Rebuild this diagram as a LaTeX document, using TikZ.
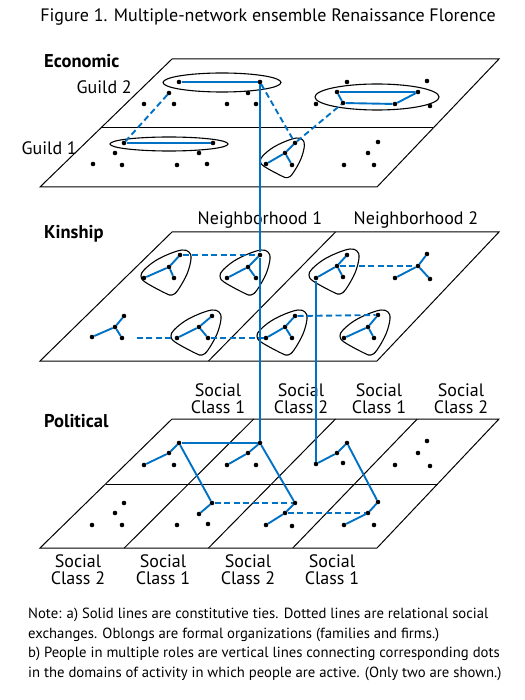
\documentclass[tikz,border=0pt]{standalone}
\usepackage{fontspec}
\setmainfont{PT Sans}
\definecolor{netblue}{RGB}{0,114,198}
\newcommand\orgblob[3]{%
  \begin{scope}[shift={(#1,#2)},scale=#3]
    \draw[org] plot[smooth cycle,tension=0.6] coordinates {(13,-17) (20,-15) (22,-8) (18,7) (9,23) (3,28) (-4,26) (-24,15) (-28,9) (-25,3) (-14,-6) (0,-13)};
  \end{scope}}
\begin{document}
\begin{tikzpicture}[x=1pt,y=-1pt,
  dot/.style={circle,fill=black,inner sep=0pt,minimum size=4.6pt},
  tie/.style={draw=netblue,line width=1.9pt},
  exch/.style={draw=netblue,line width=1.9pt,dash pattern=on 6pt off 3.5pt},
  plane/.style={draw=black,line width=1pt,line join=miter},
  org/.style={draw=black,line width=1.1pt},
  lbl/.style={font=\fontsize{18}{17}\selectfont,inner sep=0pt},
  layer/.style={font=\fontsize{18.5}{18}\selectfont\bfseries,inner sep=0pt,anchor=west},
  cls/.style={font=\fontsize{18}{17.3}\selectfont,inner sep=0pt,align=center},
  notetext/.style={font=\fontsize{14.7}{18}\selectfont,inner sep=0pt,anchor=base west}]
\fill[white] (0,0) rectangle (524,700);
\useasboundingbox (0,0) rectangle (524,700);

% title
\node[font=\fontsize{18}{20}\selectfont,inner sep=0pt,anchor=base] (title) at (268,22) {Figure 1. Multiple-network ensemble Renaissance Florence};

% ---------------- Economic layer ----------------
\draw[plane] (172,59) -- (499,59) -- (377,187) -- (40,187) -- cycle;
\draw[plane] (100.8,128) -- (433.2,128);
\node[layer] (econ) at (44,61) {Economic};
\node[lbl,anchor=east] (guild2) at (132,87) {Guild 2};
\node[lbl,anchor=east] (guild1) at (77,148) {Guild 1};

\draw[org] (222,82.5) ellipse [x radius=59,y radius=9.5];
\draw[org] (377,97) ellipse [x radius=62,y radius=13];
\draw[org] (169,144) ellipse [x radius=59,y radius=7];
\orgblob{285}{153}{0.88}

\node[dot] (e1) at (179,82) {};
\node[dot] (e2) at (260,82) {};
\node[dot] (e3) at (169,93) {};
\node[dot] (e4) at (248,93) {};
\node[dot] (e5) at (144,104) {};
\node[dot] (e6) at (174,104) {};
\node[dot] (e7) at (227,104) {};
\node[dot] (e8) at (256,104) {};
\node[dot] (e9) at (316,104) {};
\node[dot] (e10) at (347,82) {};
\node[dot] (e11) at (427,81) {};
\node[dot] (e12) at (430,106) {};
\node[dot] (r1) at (337,92) {};
\node[dot] (r2) at (418,92) {};
\node[dot] (r3) at (395,104) {};
\node[dot] (r4) at (343,103) {};
\node[dot] (g1) at (124,143) {};
\node[dot] (g2) at (213,143) {};
\node[dot] (f1) at (115,153) {};
\node[dot] (f2) at (199,153) {};
\node[dot] (f3) at (93,164) {};
\node[dot] (f4) at (122,165) {};
\node[dot] (f5) at (177,165) {};
\node[dot] (f6) at (207,164) {};
\node[dot] (f7) at (378,142) {};
\node[dot] (f8) at (368,153) {};
\node[dot] (f9) at (344,165) {};
\node[dot] (f10) at (374,165) {};
\node[dot] (t1) at (295,143) {};
\node[dot] (t0) at (285,153) {};
\node[dot] (t2) at (266,164) {};
\node[dot] (t3) at (292,165) {};

\draw[tie] (e1) -- (e2);
\draw[tie] (g1) -- (g2);
\draw[tie] (r1) -- (r2) -- (r3) -- (r4) -- (r1);
\draw[tie] (t0) -- (t1);
\draw[tie] (t0) -- (t2);
\draw[tie] (t0) -- (t3);
\draw[exch] (e3) -- (g1);
\draw[exch] (e2) -- (t1);
\draw[exch] (t1) -- (r4);

% ---------------- Kinship layer ----------------
\draw[plane] (172,232) -- (499,232) -- (377,361) -- (40,361) -- cycle;
\draw[plane] (335.5,232) -- (208.5,361);
\node[layer] (kin) at (44,234) {Kinship};
\node[lbl] (nb1) at (260,220) {Neighborhood 1};
\node[lbl] (nb2) at (416,220) {Neighborhood 2};

\orgblob{169}{267}{1}
\orgblob{248}{267}{1}
\orgblob{337}{266}{1}
\orgblob{199}{327}{1}
\orgblob{285}{327}{1}
\orgblob{368}{327}{1}

\foreach \n/\ax/\ay/\cx/\cy/\lx/\ly/\rx/\ry in {
  k1/180/255/169/267/144/278/174/278,
  k2/260/255/248/267/227/278/256/278,
  k3/347/255/337/266/316/278/343/277,
  k4/427/254/418/266/395/278/430/279,
  k5/124/316/115/327/92/337/122/338,
  k6/212/316/199/327/177/338/208/338,
  k7/295/316/285/327/266/338/292/338,
  k8/378/315/368/327/344/338/374/338}{
  \node[dot] (\n a) at (\ax,\ay) {};
  \node[dot] (\n c) at (\cx,\cy) {};
  \node[dot] (\n l) at (\lx,\ly) {};
  \node[dot] (\n r) at (\rx,\ry) {};
  \draw[tie] (\n c) -- (\n a);
  \draw[tie] (\n c) -- (\n l);
  \draw[tie] (\n c) -- (\n r);
}
\draw[exch] (k1a) -- (k2a);
\draw[exch] (k3c) -- (k4c);
\draw[exch,shorten <=12pt] (k5r) -- (k6l);
\draw[exch] (k6r) -- (k7l);
\draw[exch] (k7a) -- (k8a);

% ---------------- Political layer ----------------
\draw[plane] (172,419) -- (499,419) -- (377,548) -- (40,548) -- cycle;
\draw[plane] (105.5,484) -- (437.5,484);
\draw[plane] (253.75,419) -- (124.25,548);
\draw[plane] (335.5,419) -- (208.5,548);
\draw[plane] (417.25,419) -- (292.75,548);
\node[layer] (pol) at (44,421) {Political};

\node[cls] (ct1) at (218,398.5) {Social\\Class 1};
\node[cls] (ct2) at (301,398.5) {Social\\Class 2};
\node[cls] (ct3) at (379,398.5) {Social\\Class 1};
\node[cls] (ct4) at (461,398.5) {Social\\Class 2};
\node[cls] (cb1) at (78,569.5) {Social\\Class 2};
\node[cls] (cb2) at (163,569.5) {Social\\Class 1};
\node[cls] (cb3) at (248,569.5) {Social\\Class 2};
\node[cls] (cb4) at (332,569.5) {Social\\Class 1};

\foreach \n/\ax/\ay/\bx/\by/\lx/\ly/\rx/\ry in {
  p1/179/443/169/453/144/465/174/465,
  p2/260/443/248/453/227/465/256/465,
  p3/347/443/337/453/316/464/343/463,
  p4/427/441/418/453/395/465/430/466,
  q1/124/503/115/513/92/525/122/525,
  q2/212/503/199/514/177/525/208/524,
  q3/295/503/285/513/266/525/292/526,
  q4/378/502/368/513/344/525/374/525}{
  \node[dot] (\n a) at (\ax,\ay) {};
  \node[dot] (\n b) at (\bx,\by) {};
  \node[dot] (\n l) at (\lx,\ly) {};
  \node[dot] (\n r) at (\rx,\ry) {};
}
\draw[tie] (p1l) -- (p1b) -- (p1a);
\draw[tie] (p2l) -- (p2b) -- (p2a);
\draw[tie] (p3l) -- (p3b) -- (p3a);
\draw[tie] (q2b) -- (q2a);
\draw[tie] (q3l) -- (q3b) -- (q3a);
\draw[tie] (q4l) -- (q4b) -- (q4a);
\draw[tie] (p1a) -- (p2a);
\draw[tie] (p1a) -- (q2a);
\draw[tie] (p2a) -- (q3a);
\draw[tie] (p3a) -- (q4a);
\draw[exch] (q2a) -- (q3a);
\draw[exch] (q3b) -- (q4b);

% ---------------- multiple roles ----------------
\draw[tie] (e2) -- (k2a) -- (p2a);
\draw[tie] (k3l) -- (p3l);

% ---------------- note ----------------
\node[notetext] (note1) at (28,618) {Note: a) Solid lines are constitutive ties. Dotted lines are relational social};
\node[notetext] (note2) at (28,638) {exchanges. Oblongs are formal organizations (families and firms.)};
\node[notetext] (note3) at (28,657.5) {b) People in multiple roles are vertical lines connecting corresponding dots};
\node[notetext] (note4) at (28,677) {in the domains of activity in which people are active. (Only two are shown.)};
\end{tikzpicture}
\end{document}
